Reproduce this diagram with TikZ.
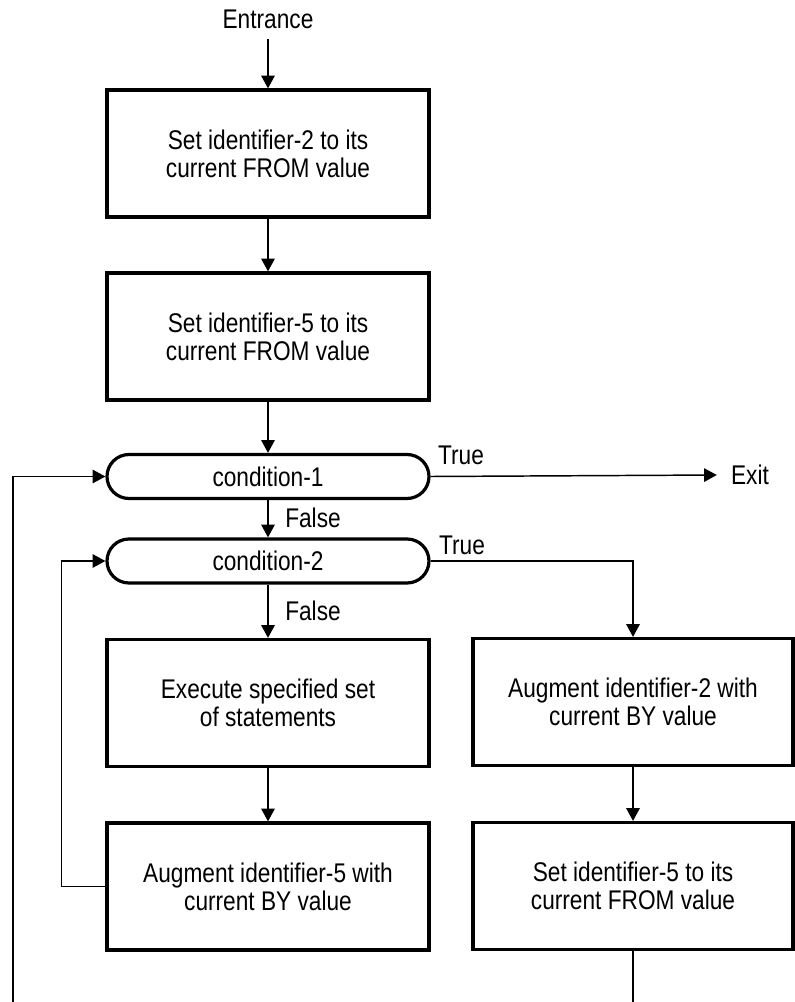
\documentclass[tikz,border=0pt]{standalone}
\usepackage{fontspec}
\setmainfont{Liberation Sans}[FakeStretch=0.84]
\usetikzlibrary{arrows.meta}
\begin{document}
\begin{tikzpicture}[x=0.75pt,y=-0.75pt,
  every node/.style={font=\fontsize{20.25pt}{21pt}\selectfont},
  stepbox/.style={draw, line width=2.4pt, minimum width=241.5pt, minimum height=95.25pt, align=center, inner sep=0pt},
  testbox/.style={draw, line width=2.4pt, rounded corners=16.5pt, minimum width=241.5pt, minimum height=33pt, inner sep=0pt},
  flow/.style={line width=1.1pt, -{Triangle[length=9.5pt,width=10pt]}},
  plain/.style={line width=1.1pt},
  lbl/.style={inner sep=0pt}]
\useasboundingbox (0,0) rectangle (794,1002);

% entry and the two initialising steps
\node[lbl] (entr) at (268,19) {Entrance};
\node[stepbox] (b1) at (268,153.5) {Set identifier-2 to its\\current FROM value};
\node[stepbox] (b2) at (268,336.5) {Set identifier-5 to its\\current FROM value};

% the two tests
\node[testbox] (c1) at (268,476.5) {condition-1};
\node[testbox] (c2) at (268,561) {condition-2};

% inner loop body (left) and outer loop step (right)
\node[stepbox] (b3) at (268,703) {Execute specified set\\of statements};
\node[stepbox] (b5) at (268,886.5) {Augment identifier-5 with\\current BY value};
\node[stepbox, minimum width=240pt] (b4) at (633,702) {Augment identifier-2 with\\current BY value};
\node[stepbox, minimum width=240pt] (b6) at (633,886) {Set identifier-5 to its\\current FROM value};

\node[lbl] (exit) at (750,475) {Exit};
\node[lbl] (t1) at (461,455) {True};
\node[lbl] (t2) at (462,545.5) {True};
\node[lbl] (f1) at (313,518) {False};
\node[lbl] (f2) at (313,611) {False};

\coordinate (outerend) at (13,1002);
\coordinate (rightend) at (633,1002);

% main flow
\draw[flow] ([yshift=-8pt]entr.south) -- (b1);
\draw[flow] (b1) -- (b2);
\draw[flow] (b2) -- (c1);
\draw[flow] (c1) -- (c2);
\draw[flow] (c2) -- (b3);
\draw[flow] (b3) -- (b5);
\draw[flow] (c1.east) -- ([xshift=-10.5pt]exit.west);
\draw[flow] (c2.east) -| (b4.north);
\draw[flow] (b4) -- (b6);

% loops back to the tests
\draw[flow] (b5.west) -- ++(-44,0) |- (c2.west);
\draw[flow] (outerend) |- (c1.west);
\draw[plain] (b6.south) -- (rightend);
\end{tikzpicture}
\end{document}
